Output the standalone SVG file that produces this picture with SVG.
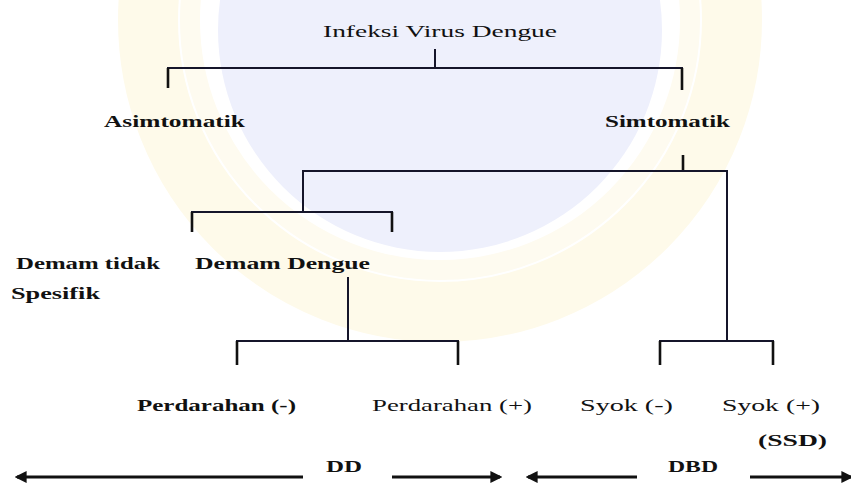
<svg xmlns="http://www.w3.org/2000/svg" width="851" height="484" viewBox="0 0 851 484">
<defs>
<style>
text{font-family:"Liberation Serif","Times New Roman",serif;font-size:17px;fill:#111}
.b{font-weight:bold}
.ln{stroke:#15152a;stroke-width:2;fill:none;stroke-linecap:square}
.dr{stroke:#111;stroke-width:2.6;fill:none}
.ar{stroke:#111;stroke-width:3;fill:none}
</style>
<marker id="ah" viewBox="0 0 10 10" refX="8" refY="5" markerWidth="4" markerHeight="4" orient="auto-start-reverse" markerUnits="strokeWidth">
<path d="M0,0 L10,5 L0,10 Z" fill="#111"/>
</marker>
</defs>
<rect width="851" height="484" fill="#fff"/>
<g id="watermark">
<circle cx="440" cy="20" r="292" fill="none" stroke="#fefaea" stroke-width="60"/>
<circle cx="440" cy="20" r="250" fill="none" stroke="#fefbf0" stroke-width="20"/>
<circle cx="440" cy="30" r="222" fill="#eef0fc"/>
</g>
<g id="connectors">
<path class="ln" d="M435,50 V68 M168,68 H682"/>
<path class="dr" d="M168,68 V88 M682,68 V90"/>
<path class="dr" d="M683,155 V171"/>
<path class="ln" d="M303,171 H727 M303,171 V212 M192,212 H392"/>
<path class="dr" d="M192,212 V232 M392,212 V232"/>
<path class="ln" d="M727,171 V341 M660,341 H773"/>
<path class="dr" d="M660,341 V365 M773,341 V365"/>
<path class="ln" d="M348,278 V341 M237,341 H458"/>
<path class="dr" d="M237,341 V365 M458,341 V365"/>
<line class="ar" x1="303" y1="477" x2="17" y2="477" marker-end="url(#ah)"/>
<line class="ar" x1="392" y1="477" x2="500" y2="477" marker-end="url(#ah)"/>
<line class="ar" x1="637" y1="477" x2="528" y2="477" marker-end="url(#ah)"/>
<line class="ar" x1="750" y1="477" x2="851" y2="477" marker-end="url(#ah)"/>
</g>
<g id="n-infeksi"><text x="323" y="37" textLength="234" lengthAdjust="spacingAndGlyphs">Infeksi Virus Dengue</text></g>
<g id="n-asimtomatik"><text class="b" x="104" y="127" textLength="141" lengthAdjust="spacingAndGlyphs">Asimtomatik</text></g>
<g id="n-simtomatik"><text class="b" x="605" y="127" textLength="125" lengthAdjust="spacingAndGlyphs">Simtomatik</text></g>
<g id="n-demam-tidak">
<text class="b" x="16" y="269" textLength="144" lengthAdjust="spacingAndGlyphs">Demam tidak</text>
<text class="b" x="11" y="299" textLength="89" lengthAdjust="spacingAndGlyphs">Spesifik</text>
</g>
<g id="n-demam-dengue"><text class="b" x="195" y="269" textLength="175" lengthAdjust="spacingAndGlyphs">Demam Dengue</text></g>
<g id="n-perd-neg"><text class="b" x="137" y="411" textLength="159" lengthAdjust="spacingAndGlyphs">Perdarahan (-)</text></g>
<g id="n-perd-pos"><text x="372" y="411" textLength="160" lengthAdjust="spacingAndGlyphs">Perdarahan (+)</text></g>
<g id="n-syok-neg"><text x="580" y="411" textLength="93" lengthAdjust="spacingAndGlyphs">Syok (-)</text></g>
<g id="n-syok-pos">
<text x="722" y="411" textLength="98" lengthAdjust="spacingAndGlyphs">Syok (+)</text>
<text class="b" x="758" y="446" textLength="69" lengthAdjust="spacingAndGlyphs">(SSD)</text>
</g>
<g id="n-dd"><text class="b" x="326" y="472" textLength="36" lengthAdjust="spacingAndGlyphs">DD</text></g>
<g id="n-dbd"><text class="b" x="668" y="472" textLength="50" lengthAdjust="spacingAndGlyphs">DBD</text></g>
</svg>
